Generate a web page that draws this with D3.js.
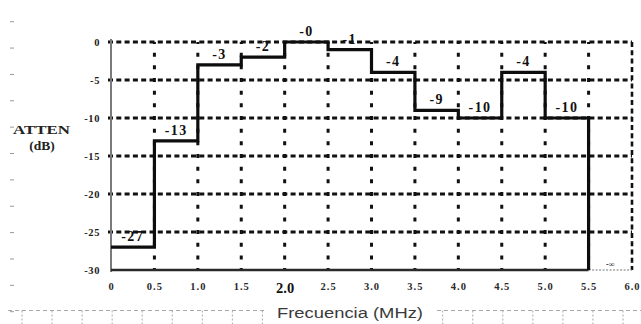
<!DOCTYPE html>
<html>
<head>
<meta charset="utf-8">
<script src="https://cdn.jsdelivr.net/npm/d3@7"></script>
<style>
  html, body { margin: 0; padding: 0; background: #fff; }
  svg { display: block; }
</style>
</head>
<body>
<svg id="chart" width="641" height="324"></svg>
<script>
// ---- data ----
const segmentStarts = [0, 0.5, 1.0, 1.5, 2.0, 2.5, 3.0, 3.5, 4.0, 4.5, 5.0, 5.5];
const attenValues  = [-27, -13, -3, -2, -0, -1, -4, -9, -10, -4, -10, -Infinity];
const stepLabels   = ["-27", "-13", "-3", "-2", "-0", "-1", "-4", "-9", "-10", "-4", "-10", "-\u221E"];
const xTickValues  = [0, 0.5, 1.0, 1.5, 2.0, 2.5, 3.0, 3.5, 4.0, 4.5, 5.0, 5.5, 6.0];
const xTickLabels  = ["0", "0.5", "1.0", "1.5", "2.0", "2.5", "3.0", "3.5", "4.0", "4.5", "5.0", "5.5", "6.0"];
const yTickValues  = [0, -5, -10, -15, -20, -25, -30];
const yTickLabels  = ["0", "-5", "-10", "-15", "-20", "-25", "-30"];
const yTitle = ["ATTEN", "(dB)"];
const xTitle = "Frecuencia (MHz)";

// ---- scales ----
const svg = d3.select("#chart");
const x = d3.scaleLinear().domain([0, 6]).range([111, 632]);
const y = d3.scaleLinear().domain([-30, 0]).range([270, 42]).clamp(true);
const serif = "'Liberation Serif', 'DejaVu Serif', serif";

// ---- scan-ruler decorations ----
const rulerY = d3.scaleLinear().domain([0, 11]).range([21.7, 311.7]);
svg.append("g").selectAll("line").data(d3.range(12)).join("line")
  .attr("x1", 10).attr("x2", 14)
  .attr("y1", d => rulerY(d)).attr("y2", d => rulerY(d))
  .attr("stroke", "#9a9a9a").attr("stroke-width", 1);

const rulerX = d3.scaleLinear().domain([0, 20]).range([22, 623]);
const rg = svg.append("g");
rg.append("line").attr("x1", 8).attr("x2", 264).attr("y1", 310.5).attr("y2", 310.5)
  .attr("stroke", "#a8a8a8").attr("stroke-width", 1).attr("stroke-dasharray", "4,3");
rg.append("line").attr("x1", 437).attr("x2", 641).attr("y1", 310.5).attr("y2", 310.5)
  .attr("stroke", "#a8a8a8").attr("stroke-width", 1).attr("stroke-dasharray", "4,3");
rg.selectAll("line.t").data(d3.range(21).filter(k => { const p = rulerX(k); return p < 266 || p > 436; }))
  .join("line").attr("class", "t")
  .attr("x1", d => rulerX(d)).attr("x2", d => rulerX(d))
  .attr("y1", 310.5).attr("y2", 324)
  .attr("stroke", "#a8a8a8").attr("stroke-width", 1).attr("stroke-dasharray", "2,2");

// ---- grid ----
const grid = svg.append("g");
// horizontal dashed lines (0 .. -25)
grid.selectAll("line.h").data(yTickValues.filter(v => v > -30)).join("line").attr("class", "h")
  .attr("x1", x(0) - 3).attr("x2", x(6))
  .attr("y1", d => y(d)).attr("y2", d => y(d))
  .attr("stroke", "#111").attr("stroke-width", 2.8).attr("stroke-dasharray", "5,3.3");
// vertical dotted lines
grid.selectAll("line.v").data(xTickValues.filter(v => v > 0 && v < 6)).join("line").attr("class", "v")
  .attr("x1", d => x(d)).attr("x2", d => x(d))
  .attr("y1", y(0)).attr("y2", y(-30))
  .attr("stroke", "#111").attr("stroke-width", 3)
  .attr("stroke-dasharray", "4,8.67").attr("stroke-dashoffset", 2);
// right border dashed
grid.append("line").attr("x1", x(6)).attr("x2", x(6)).attr("y1", y(0)).attr("y2", y(-30))
  .attr("stroke", "#111").attr("stroke-width", 2.6).attr("stroke-dasharray", "5,3.3");
// left axis (gray solid)
grid.append("line").attr("x1", x(0)).attr("x2", x(0)).attr("y1", y(0) - 3).attr("y2", y(-30) + 2)
  .attr("stroke", "#7a7a7a").attr("stroke-width", 2);
// bottom axis
grid.append("line").attr("x1", x(0)).attr("x2", x(5.5)).attr("y1", y(-30)).attr("y2", y(-30))
  .attr("stroke", "#2a2a2a").attr("stroke-width", 2.4);
grid.append("line").attr("x1", x(5.5)).attr("x2", x(6)).attr("y1", y(-30)).attr("y2", y(-30))
  .attr("stroke", "#777").attr("stroke-width", 1.2).attr("stroke-dasharray", "2,1.5");

// ---- axes (labels) ----
const yAxis = d3.axisLeft(y).tickValues(yTickValues)
  .tickFormat((d, i) => yTickLabels[i]).tickSize(0).tickPadding(11);
const gy = svg.append("g").attr("transform", `translate(${x(0)},0)`).call(yAxis);
gy.select(".domain").remove();
gy.selectAll("text").attr("font-family", serif).attr("font-weight", "bold")
  .attr("font-size", 10.5).attr("fill", "#222").attr("letter-spacing", 0.6);

const xAxis = d3.axisBottom(x).tickValues(xTickValues)
  .tickFormat((d, i) => xTickLabels[i]).tickSize(0).tickPadding(13);
const gx = svg.append("g").attr("transform", `translate(0,${y(-30)})`).call(xAxis);
gx.select(".domain").remove();
gx.selectAll("text").attr("font-family", serif).attr("font-weight", "bold")
  .attr("font-size", (d) => d === 2.0 ? 14.5 : 10.5)
  .attr("fill", (d) => d === 2.0 ? "#111" : "#2a2a2a")
  .attr("letter-spacing", (d) => d === 2.0 ? 0 : 1);

// ---- step line ----
const pts = segmentStarts.map((s, i) => [s, attenValues[i]]);
const line = d3.line().x(d => x(d[0])).y(d => y(d[1])).curve(d3.curveStepAfter);
svg.append("path").datum(pts).attr("d", line)
  .attr("fill", "none").attr("stroke", "#0d0d0d").attr("stroke-width", 3.2)
  .attr("stroke-linejoin", "miter");

// ---- step labels ----
svg.append("g").selectAll("text").data(stepLabels).join("text")
  .attr("x", (d, i) => x(segmentStarts[i] + 0.25))
  .attr("y", (d, i) => isFinite(attenValues[i]) ? y(attenValues[i]) - 6 : y(-30) - 3)
  .attr("text-anchor", "middle")
  .attr("font-family", serif).attr("font-weight", "bold")
  .attr("font-size", (d, i) => isFinite(attenValues[i]) ? 14 : 8)
  .attr("letter-spacing", (d, i) => isFinite(attenValues[i]) ? 1.4 : 0)
  .attr("fill", "#111")
  .text(d => d);

// ---- titles ----
svg.append("text").attr("x", 13).attr("y", 134).attr("textLength", 57)
  .attr("lengthAdjust", "spacingAndGlyphs")
  .attr("font-family", serif).attr("font-weight", "bold").attr("font-size", 13)
  .attr("fill", "#222").text(yTitle[0]);
svg.append("text").attr("x", 42).attr("y", 150).attr("text-anchor", "middle")
  .attr("font-family", serif).attr("font-weight", "bold").attr("font-size", 13.5)
  .attr("fill", "#222").text(yTitle[1]);
svg.append("text").attr("x", 277).attr("y", 317.5).attr("textLength", 146)
  .attr("lengthAdjust", "spacingAndGlyphs")
  .attr("font-family", "'Liberation Sans', Arial, sans-serif").attr("font-size", 15.5)
  .attr("fill", "#3a3a3a").text(xTitle);
</script>
</body>
</html>
